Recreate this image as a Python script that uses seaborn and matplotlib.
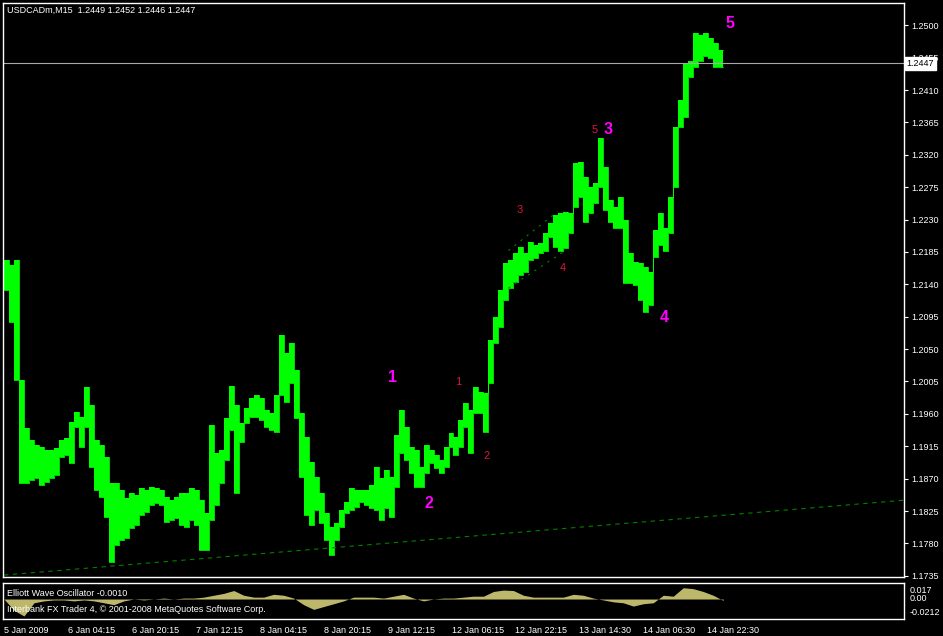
import numpy as np
import pandas as pd
import seaborn as sns
import matplotlib.pyplot as plt
import matplotlib.transforms as mtransforms

# USDCAD M15, high / low of each block of 5 bars
block = 5
high = [
    1.2174, 1.2167, 1.2174, 1.2007, 1.1940, 1.1924, 1.1917, 1.1914, 1.1910, 1.1910,
    1.1912, 1.1924, 1.1926, 1.1949, 1.1962, 1.1956, 1.1997, 1.1972, 1.1924, 1.1917,
    1.1900, 1.1864, 1.1864, 1.1854, 1.1843, 1.1850, 1.1847, 1.1857, 1.1854, 1.1858,
    1.1857, 1.1854, 1.1844, 1.1840, 1.1844, 1.1850, 1.1850, 1.1857, 1.1854, 1.1840,
    1.1822, 1.1944, 1.1906, 1.1910, 1.1954, 1.1999, 1.1972, 1.1947, 1.1968, 1.1982,
    1.1986, 1.1982, 1.1965, 1.1961, 1.1986, 1.2069, 1.2044, 1.2058, 1.2021, 1.1961,
    1.1928, 1.1893, 1.1872, 1.1850, 1.1822, 1.1803, 1.1808, 1.1826, 1.1838, 1.1857,
    1.1854, 1.1854, 1.1854, 1.1861, 1.1886, 1.1871, 1.1882, 1.1872, 1.1931, 1.1965,
    1.1942, 1.1914, 1.1910, 1.1886, 1.1917, 1.1910, 1.1903, 1.1896, 1.1914, 1.1933,
    1.1928, 1.1951, 1.1975, 1.1965, 1.1997, 1.1990, 1.1989, 1.2062, 1.2094, 1.2132,
    1.2169, 1.2174, 1.2183, 1.2192, 1.2183, 1.2199, 1.2194, 1.2197, 1.2211, 1.2225,
    1.2236, 1.2239, 1.2240, 1.2239, 1.2308, 1.2310, 1.2289, 1.2275, 1.2281, 1.2343,
    1.2303, 1.2257, 1.2247, 1.2261, 1.2229, 1.2183, 1.2171, 1.2169, 1.2164, 1.2157,
    1.2215, 1.2239, 1.2219, 1.2261, 1.2358, 1.2396, 1.2447, 1.2451, 1.2489, 1.2486,
    1.2490, 1.2482, 1.2475, 1.2465,
]
low = [
    1.2132, 1.2087, 1.2007, 1.1864, 1.1864, 1.1868, 1.1871, 1.1861, 1.1865, 1.1871,
    1.1875, 1.1900, 1.1903, 1.1892, 1.1942, 1.1914, 1.1942, 1.1886, 1.1854, 1.1844,
    1.1817, 1.1754, 1.1778, 1.1785, 1.1787, 1.1801, 1.1806, 1.1819, 1.1824, 1.1833,
    1.1836, 1.1833, 1.1810, 1.1812, 1.1815, 1.1806, 1.1803, 1.1812, 1.1806, 1.1771,
    1.1771, 1.1812, 1.1833, 1.1864, 1.1896, 1.1937, 1.1850, 1.1921, 1.1947, 1.1956,
    1.1956, 1.1951, 1.1942, 1.1937, 1.1935, 1.1986, 1.1976, 1.2003, 1.1954, 1.1872,
    1.1819, 1.1806, 1.1826, 1.1808, 1.1785, 1.1764, 1.1785, 1.1803, 1.1822, 1.1826,
    1.1831, 1.1838, 1.1833, 1.1829, 1.1826, 1.1812, 1.1829, 1.1817, 1.1858, 1.1906,
    1.1896, 1.1878, 1.1858, 1.1858, 1.1878, 1.1892, 1.1885, 1.1878, 1.1886, 1.1914,
    1.1903, 1.1914, 1.1942, 1.1906, 1.1961, 1.1961, 1.1935, 1.2003, 1.2058, 1.2081,
    1.2118, 1.2135, 1.2143, 1.2153, 1.2157, 1.2174, 1.2176, 1.2183, 1.2187, 1.2206,
    1.2192, 1.2187, 1.2190, 1.2211, 1.2247, 1.2261, 1.2226, 1.2239, 1.2253, 1.2275,
    1.2243, 1.2226, 1.2219, 1.2219, 1.2142, 1.2142, 1.2139, 1.2118, 1.2101, 1.2111,
    1.2178, 1.2194, 1.2187, 1.2211, 1.2275, 1.2358, 1.2372, 1.2428, 1.2442, 1.2451,
    1.2458, 1.2455, 1.2442, 1.2442,
]

# Elliott Wave Oscillator, every 10 bars
ewo_step = 10
ewo = [
    0.000, -0.012, -0.018, -0.004, -0.002, -0.001, -0.001, -0.002, -0.001, -0.002,
    -0.004, -0.006, -0.002, 0.000, -0.001, 0.000, 0.001, 0.000, 0.001, 0.001,
    0.002, 0.004, 0.006, 0.009, 0.004, 0.002, 0.002, 0.005, 0.004, 0.001,
    -0.006, -0.011, -0.008, -0.005, -0.002, 0.002, 0.002, 0.002, 0.001, 0.003,
    0.005, 0.001, -0.002, 0.000, 0.001, 0.001, 0.002, 0.003, 0.003, 0.008,
    0.0095, 0.009, 0.004, 0.002, 0.002, 0.002, 0.002, 0.005, 0.004, 0.001,
    -0.001, -0.003, -0.004, -0.0075, -0.005, -0.004, 0.004, 0.003, 0.012, 0.011,
    0.008, 0.004, -0.0015,
]

time_labels = ['5 Jan 2009', '6 Jan 04:15', '6 Jan 20:15', '7 Jan 12:15', '8 Jan 04:15',
               '8 Jan 20:15', '9 Jan 12:15', '12 Jan 06:15', '12 Jan 22:15', '13 Jan 14:30',
               '14 Jan 06:30', '14 Jan 22:30']
label_every = 64  # bars between time labels

price_ticks = [1.1735, 1.1780, 1.1825, 1.1870, 1.1915, 1.1960, 1.2005, 1.2050, 1.2095,
               1.2140, 1.2185, 1.2230, 1.2275, 1.2320, 1.2365, 1.2410, 1.2455, 1.2500]

last_price = 1.2447
header = 'USDCADm,M15  1.2449 1.2452 1.2446 1.2447'
ewo_name = 'Elliott Wave Oscillator -0.0010'
copyright_txt = 'Interbank FX Trader 4, \u00a9 2001-2008 MetaQuotes Software Corp.'

# trend line and the small channel (bar, price)
trend_bars, trend_prices = [0, 901], [1.1736, 1.1840]
upper_bars, upper_prices = [505, 554], [1.2187, 1.2241]
lower_bars, lower_prices = [505, 562], [1.2135, 1.2187]

# wave counts
major_labels = ['1', '2', '3', '4', '5']
major_bars = [389, 425, 605, 661, 727]
major_prices = [1.2010, 1.1835, 1.2355, 1.2094, 1.2503]
minor_labels = ['1', '2', '3', '4', '5']
minor_bars = [455, 483, 516, 559, 591]
minor_prices = [1.2004, 1.1901, 1.2243, 1.2163, 1.2355]

sns.set_theme(style='dark', rc={'axes.facecolor': 'black', 'figure.facecolor': 'black'})
plt.rcParams['font.family'] = ['Liberation Sans', 'DejaVu Sans']

bars = np.arange(len(high)) * block
df = pd.DataFrame({'bar': np.append(bars, bars[-1] + block),
                   'high': high + [high[-1]], 'low': low + [low[-1]]})

fig = plt.figure(figsize=(9.43, 6.36), dpi=100, facecolor='black')
W, H = 943, 636
ax = fig.add_axes([3 / W, 1 - 577 / H, 901 / W, 574 / H])
ax2 = fig.add_axes([3 / W, 1 - 619 / H, 901 / W, 36 / H], sharex=ax)

# price bars
ax.fill_between(df['bar'], df['low'], df['high'], step='post', color='#00FF00', lw=0)
sns.lineplot(data=df, x='bar', y='high', ax=ax, color='#00FF00', lw=0.6, drawstyle='steps-post')
sns.lineplot(data=df, x='bar', y='low', ax=ax, color='#00FF00', lw=0.6, drawstyle='steps-post')

ax.plot(trend_bars, trend_prices, color='#008000', lw=0.8, ls=(0, (4, 4)))
ax.plot(upper_bars, upper_prices, color='#008000', lw=0.8, ls=(0, (2, 5)))
ax.plot(lower_bars, lower_prices, color='#008000', lw=0.8, ls=(0, (2, 5)))
ax.axhline(last_price, color='#A8A8A8', lw=0.8)

for t, b, p in zip(major_labels, major_bars, major_prices):
    ax.text(b, p, t, color='#FF00FF', fontsize=11.5, fontweight='bold', ha='center', va='center')
for t, b, p in zip(minor_labels, minor_bars, minor_prices):
    ax.text(b, p, t, color='#DC143C', fontsize=8, ha='center', va='center')

ax.set_xlim(-1, 901)
ax.set_ylim(1.17333, 1.25310)
ax.yaxis.tick_right()
ax.set_yticks(price_ticks)
ax.set_yticklabels([f'{v:.4f}' for v in price_ticks])
ax.tick_params(axis='y', colors='white', labelsize=6.5, length=3, width=0.8, pad=2,
               right=True, left=False)
ax.tick_params(axis='x', bottom=False, labelbottom=False)
ax.set_xlabel('')
ax.set_ylabel('')

trans = mtransforms.blended_transform_factory(ax.transAxes, ax.transData)
ax.text(1.003, last_price, f'{last_price:.4f}', transform=trans, color='black', fontsize=6.5,
        ha='left', va='center', clip_on=False, zorder=10,
        bbox=dict(facecolor='white', edgecolor='white', pad=1.2))
ax.text(0.004, 0.988, header, transform=ax.transAxes, color='white', fontsize=6.5,
        ha='left', va='center')

# oscillator panel
ewo_bars = np.arange(len(ewo)) * ewo_step
ax2.fill_between(ewo_bars, 0, ewo, color='#BDB76B', lw=0)
ax2.set_ylim(-0.0212, 0.017)
ax2.set_yticks([])
ax2.set_xticks(np.arange(len(time_labels)) * label_every)
ax2.set_xticklabels(time_labels, ha='left')
ax2.tick_params(axis='x', colors='white', labelsize=6.5, length=4, width=0.8, pad=1,
                direction='out')
ax2.text(0.004, 0.72, ewo_name, transform=ax2.transAxes, color='white', fontsize=6.5,
         ha='left', va='center')
ax2.text(0.004, 0.25, copyright_txt, transform=ax2.transAxes, color='white', fontsize=6.5,
         ha='left', va='center')
ax2.text(1.006, 0.80, '0.017', transform=ax2.transAxes, color='white', fontsize=6.5,
         ha='left', va='center', clip_on=False)
ax2.text(1.006, 0.58, '0.00', transform=ax2.transAxes, color='white', fontsize=6.5,
         ha='left', va='center', clip_on=False)
ax2.text(1.006, 0.17, '-0.0212', transform=ax2.transAxes, color='white', fontsize=6.5,
         ha='left', va='center', clip_on=False)

for a in (ax, ax2):
    for s in a.spines.values():
        s.set_color('white')
        s.set_linewidth(1)
        s.set_visible(True)
    a.set_facecolor('black')
    a.grid(False)

fig.savefig('out.png', dpi=100, facecolor='black')
